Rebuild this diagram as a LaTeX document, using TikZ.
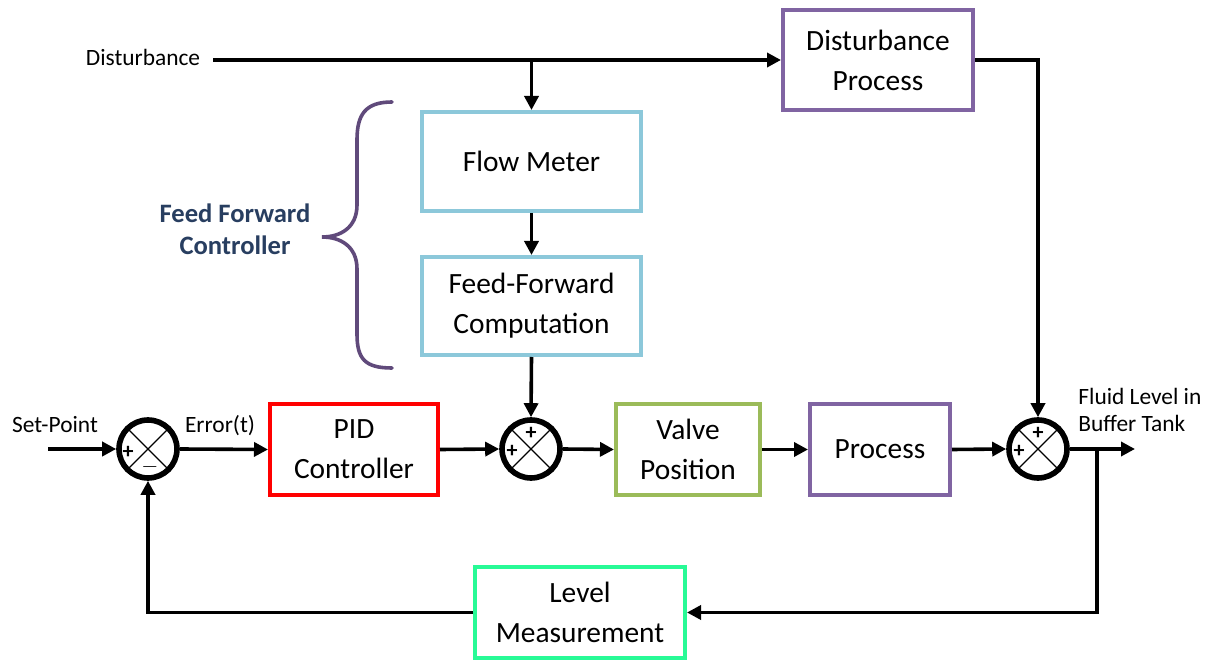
\documentclass[tikz,border=0pt]{standalone}
\usepackage{fontspec}
\setmainfont{Carlito}
\usetikzlibrary{arrows.meta,calc,positioning}
\definecolor{ffpurple}{RGB}{128,100,162}
\definecolor{ffbrace}{RGB}{96,74,123}
\definecolor{ffblue}{RGB}{140,200,218}
\definecolor{ffgreen}{RGB}{155,187,89}
\definecolor{ffspring}{RGB}{40,250,150}
\definecolor{fftext}{RGB}{40,62,96}

\begin{document}
\begin{tikzpicture}[x=0.5pt,y=-0.5pt,
  block/.style={draw,line width=2pt,fill=white,align=center,inner sep=0pt,
    font=\fontsize{14.7}{20}\selectfont},
  sumnode/.style={circle,draw,line width=2.8pt,minimum size=29pt,inner sep=0pt},
  sig/.style={-{Triangle[length=7pt,width=7pt]},line width=1.8pt},
  lbl/.style={font=\fontsize{11.7}{13.5}\selectfont,align=left}]
\useasboundingbox (0,0) rectangle (1217,663);

% blocks
\node[block,draw=ffpurple,minimum width=95pt,minimum height=50pt] (dp) at (878,60) {Disturbance\\Process};
\node[block,draw=ffblue,minimum width=109.5pt,minimum height=49.5pt] (flow) at (531.5,161.5) {Flow Meter};
\node[block,draw=ffblue,minimum width=109.5pt,minimum height=49pt] (ff) at (531.5,306) {Feed-Forward\\Computation};
\node[block,draw=red,minimum width=84pt,minimum height=45.5pt] (pid) at (354,449.5) {PID\\Controller};
\node[block,draw=ffgreen,minimum width=72pt,minimum height=45.5pt] (valve) at (688,449.5) {Valve\\Position};
\node[block,draw=ffpurple,minimum width=70pt,minimum height=45.5pt] (proc) at (880,449.5) {Process};
\node[block,draw=ffspring,minimum width=105pt,minimum height=45.5pt] (level) at (580,612.5) {Level\\Measurement};

% summing junctions
\node[sumnode] (s1) at (148,449) {};
\node[sumnode] (s2) at (531,449) {};
\node[sumnode] (s3) at (1038,449) {};
\foreach \s in {s1,s2,s3}{
  \draw[line width=0.7pt] (\s.north west) -- (\s.south east);
  \draw[line width=0.7pt] (\s.north east) -- (\s.south west);
}
\foreach \s/\dx/\dy/\t in {s1/-20/3/+,s1/2/18/$-$,s2/-19/2/+,s2/0/-16/+,s3/-19/2/+,s3/0/-16/+}
  \node[inner sep=0pt,font=\fontsize{11}{11}\selectfont\bfseries] at ($(\s)+(\dx,\dy)$) {\t};

% labels
\node[lbl] (dist) at (143,57) {Disturbance};
\node[lbl] (setp) at (55,425) {Set-Point};
\node[lbl] (err) at (220,426) {Error(t)};
\node[lbl,anchor=west,inner sep=0pt] (fluid) at (1078,410) {Fluid Level in\\Buffer Tank};
\node[font=\fontsize{13.3}{16}\selectfont\bfseries,text=fftext,align=center] (ffc) at (235,229) {Feed Forward\\Controller};

% brace
\draw[ffbrace,line width=1.8pt,line cap=round]
  (392,102) .. controls (365,102) and (357,115) .. (357,140)
  -- (357,205) .. controls (357,228) and (340,237) .. (322,237)
  .. controls (340,237) and (357,246) .. (357,269)
  -- (357,334) .. controls (357,359) and (365,368) .. (392,368);

% coordinates
\coordinate (d0) at (213,60);
\coordinate (sp) at (48,449);
\coordinate (out) at (1135,449);
\coordinate (tap) at (1097,449);

% connectors
\draw[sig] (d0) -- (dp.west);
\draw[sig] (flow.north |- d0) -- (flow.north);
\draw[sig] (dp.east) -| (s3.north);
\draw[sig] (flow.south) -- (ff.north);
\draw[sig] (ff.south) -- (s2.north);
\draw[sig] (sp) -- (s1.west);
\draw[sig] (s1.east) -- (pid.west);
\draw[sig] (pid.east) -- (s2.west);
\draw[sig] (s2.east) -- (valve.west);
\draw[sig] (valve.east) -- (proc.west);
\draw[sig] (proc.east) -- (s3.west);
\draw[sig] (s3.east) -- (out);
\draw[sig] (tap) |- (level.east);
\draw[sig] (level.west) -| (s1.south);
\end{tikzpicture}
\end{document}
